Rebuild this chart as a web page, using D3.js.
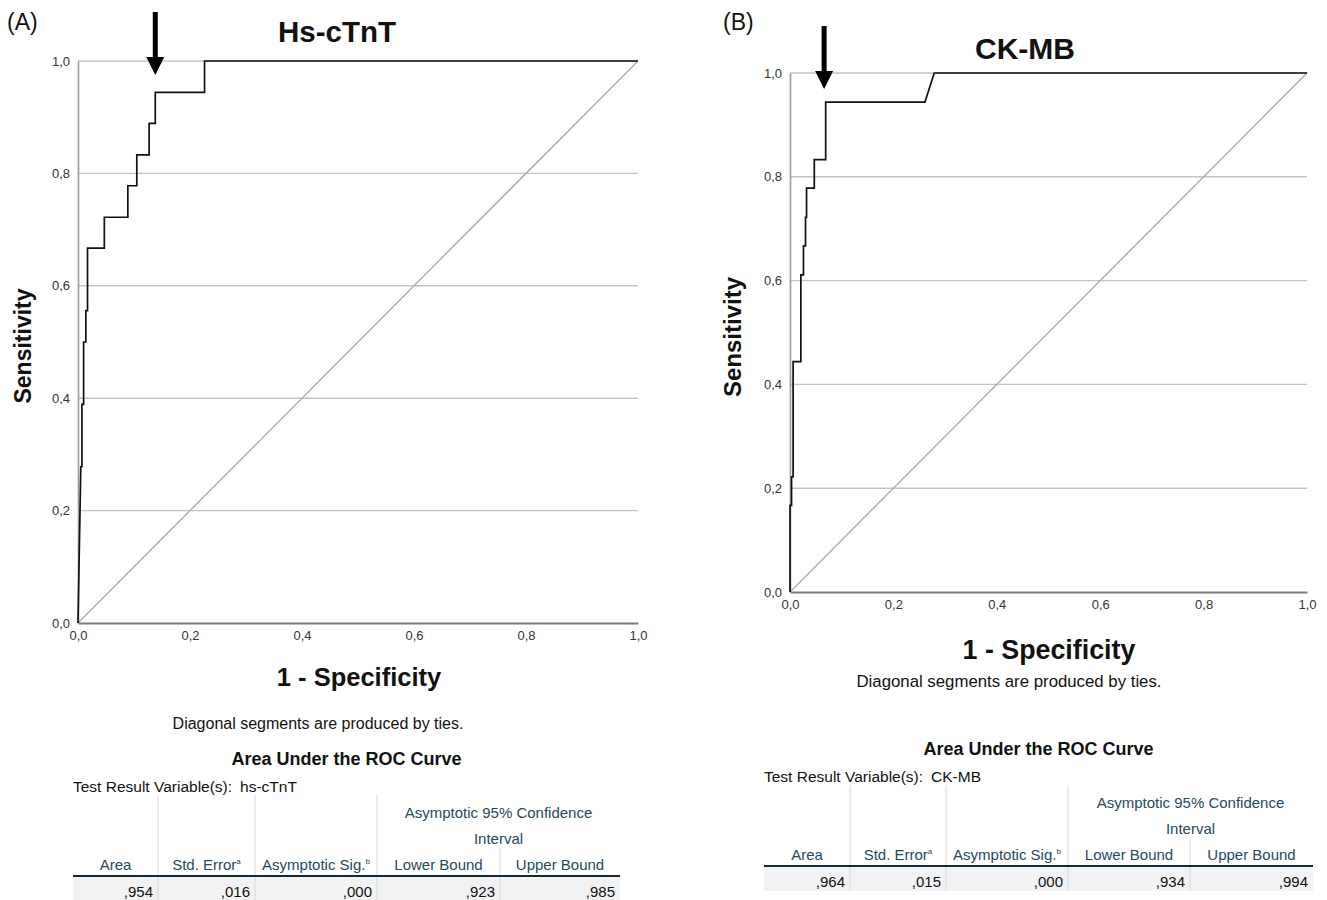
<!DOCTYPE html>
<html><head><meta charset="utf-8">
<script src="https://cdn.jsdelivr.net/npm/d3@7"></script>
<style>
body{margin:0;background:#fff;}
svg{display:block;font-family:"Liberation Sans",Arial,sans-serif;}
</style></head>
<body>
<svg id="chart" width="1327" height="900"></svg>
<script>
// ---------- data ----------
const ticks = [0, 0.2, 0.4, 0.6, 0.8, 1.0];

// Panel A: Hs-cTnT ROC curve (1 - specificity, sensitivity)
const fprA = [0, 0.005, 0.007, 0.007, 0.010, 0.010, 0.014, 0.014, 0.017, 0.017, 0.047, 0.047, 0.089, 0.089, 0.105, 0.105, 0.127, 0.127, 0.138, 0.138, 0.226, 0.226, 1];
const tprA = [0, 0.278, 0.278, 0.389, 0.389, 0.500, 0.500, 0.556, 0.556, 0.667, 0.667, 0.722, 0.722, 0.778, 0.778, 0.833, 0.833, 0.889, 0.889, 0.944, 0.944, 1, 1];
const arrowA = [0.138, 0.975];

// Panel B: CK-MB ROC curve
const fprB = [0, 0, 0.003, 0.003, 0.006, 0.006, 0.021, 0.021, 0.026, 0.026, 0.030, 0.030, 0.032, 0.032, 0.047, 0.047, 0.069, 0.069, 0.261, 0.279, 1];
const tprB = [0, 0.167, 0.167, 0.222, 0.222, 0.444, 0.444, 0.611, 0.611, 0.667, 0.667, 0.722, 0.722, 0.778, 0.778, 0.833, 0.833, 0.944, 0.944, 1, 1];
const arrowB = [0.066, 0.969];

// AUC tables
const colHeaders = ["Area", "Std. Error", "Asymptotic Sig.", "Lower Bound", "Upper Bound"];
const colSup = ["", "a", "b", "", ""];
const tableA = [",954", ",016", ",000", ",923", ",985"];
const tableB = [",964", ",015", ",000", ",934", ",994"];

// ---------- drawing ----------
const svg = d3.select("#chart");
const fmt = v => d3.format(".1f")(v).replace(".", ",");

function panel(cfg){
  const g = svg.append("g");
  const x = d3.scaleLinear().domain([0,1]).range([cfg.x0, cfg.x1]);
  const y = d3.scaleLinear().domain([0,1]).range([cfg.y0, cfg.y1]);

  // gridlines
  g.selectAll("line.grid").data(ticks.slice(1)).join("line")
    .attr("x1", x(0)).attr("x2", x(1))
    .attr("y1", d => y(d)).attr("y2", d => y(d))
    .attr("stroke", "#c4c4c4").attr("stroke-width", 1.4);

  // diagonal reference
  g.append("line").attr("x1", x(0)).attr("y1", y(0)).attr("x2", x(1)).attr("y2", y(1))
    .attr("stroke", "#a8a8a8").attr("stroke-width", 1.3);

  // axes
  const ax = g.append("g").attr("transform", `translate(0,${cfg.y0})`)
    .call(d3.axisBottom(x).tickValues(ticks).tickFormat(fmt).tickSize(0).tickPadding(8));
  ax.select(".domain").attr("stroke", "#7a7a7a").attr("stroke-width", 2);
  ax.selectAll("text").attr("font-size", 13).attr("fill", "#333").attr("font-family", "Liberation Sans, Arial, sans-serif");

  const ay = g.append("g").attr("transform", `translate(${cfg.x0},0)`)
    .call(d3.axisLeft(y).tickValues(ticks).tickFormat(fmt).tickSize(0).tickPadding(8));
  ay.select(".domain").attr("stroke", "#9a9a9a").attr("stroke-width", 1.6);
  ay.selectAll("text").attr("font-size", 13).attr("fill", "#333").attr("font-family", "Liberation Sans, Arial, sans-serif").attr("dy", "0.32em");

  // ROC curve
  const pts = cfg.fpr.map((f,i) => [f, cfg.tpr[i]]);
  g.append("path").datum(pts)
    .attr("d", d3.line().x(d => x(d[0])).y(d => y(d[1])))
    .attr("fill", "none").attr("stroke", "#111").attr("stroke-width", 1.7);

  // arrow
  const ax0 = x(cfg.arrow[0]), tip = y(cfg.arrow[1]);
  const headH = 18, headW = 9, shaftW = 2.5, len = 63;
  g.append("path")
    .attr("d", `M${ax0-shaftW},${tip-len} L${ax0+shaftW},${tip-len} L${ax0+shaftW},${tip-headH} L${ax0+headW},${tip-headH} L${ax0},${tip} L${ax0-headW},${tip-headH} L${ax0-shaftW},${tip-headH} Z`)
    .attr("fill", "#000");

  // texts
  g.append("text").attr("x", cfg.labX).attr("y", cfg.labY).attr("font-size", 23).attr("fill", "#111").text(cfg.label);
  g.append("text").attr("x", cfg.titleX).attr("y", cfg.titleY).attr("text-anchor", "middle")
    .attr("font-size", cfg.titleSize).attr("font-weight", "bold").attr("fill", "#111").text(cfg.title);
  g.append("text").attr("transform", `translate(${cfg.sensX},${cfg.sensY}) rotate(-90)`).attr("text-anchor", "middle")
    .attr("font-size", cfg.sensSize).attr("font-weight", "bold").attr("fill", "#111").text("Sensitivity");
  g.append("text").attr("x", cfg.specX).attr("y", cfg.specY).attr("text-anchor", "middle")
    .attr("font-size", cfg.specSize).attr("font-weight", "bold").attr("fill", "#111").text("1 - Specificity");
  g.append("text").attr("x", cfg.diagX).attr("y", cfg.diagY).attr("text-anchor", "middle")
    .attr("font-size", cfg.diagSize).attr("fill", "#111").text("Diagonal segments are produced by ties.");

  // table
  const t = cfg.table, c = t.cols, ty = t.y;
  const tg = g.append("g");
  tg.append("text").attr("x", (c[0]+c[5])/2).attr("y", ty+6).attr("text-anchor", "middle")
    .attr("font-size", 18).attr("font-weight", "bold").attr("fill", "#111").text("Area Under the ROC Curve");
  tg.append("text").attr("x", c[0]).attr("y", ty+33).attr("font-size", 15.5).attr("fill", "#111")
    .text("Test Result Variable(s):").append("tspan").attr("dx", 8).text(t.variable);
  // row band
  tg.append("rect").attr("x", c[0]).attr("y", ty+118).attr("width", c[5]-c[0]).attr("height", 24).attr("fill", "#f1f2f3");
  // separators
  [1,2,3].forEach(i => tg.append("line").attr("x1", c[i]).attr("x2", c[i]).attr("y1", ty+36).attr("y2", ty+142)
      .attr("stroke", "#d8d8d8").attr("stroke-width", 1));
  tg.append("line").attr("x1", c[4]).attr("x2", c[4]).attr("y1", ty+89).attr("y2", ty+142)
    .attr("stroke", "#d8d8d8").attr("stroke-width", 1);
  // header
  tg.append("text").attr("x", (c[3]+c[5])/2).attr("y", ty+59).attr("text-anchor", "middle")
    .attr("font-size", 15).attr("fill", "#264a60").text("Asymptotic 95% Confidence");
  tg.append("text").attr("x", (c[3]+c[5])/2).attr("y", ty+85).attr("text-anchor", "middle")
    .attr("font-size", 15).attr("fill", "#264a60").text("Interval");
  colHeaders.forEach((h,i) => {
    const tx = tg.append("text").attr("x", (c[i]+c[i+1])/2).attr("y", ty+111).attr("text-anchor", "middle")
      .attr("font-size", 15).attr("fill", "#264a60").text(h);
    if (colSup[i]) tx.append("tspan").attr("font-size", 8).attr("dy", -6).text(colSup[i]);
  });
  tg.append("line").attr("x1", c[0]).attr("x2", c[5]).attr("y1", ty+117).attr("y2", ty+117)
    .attr("stroke", "#152935").attr("stroke-width", 2);
  t.values.forEach((v,i) => tg.append("text").attr("x", c[i+1]-5).attr("y", ty+138).attr("text-anchor", "end")
    .attr("font-size", 15).attr("fill", "#111").text(v));
}

panel({
  x0: 78, x1: 638, y0: 623, y1: 61, fpr: fprA, tpr: tprA, arrow: arrowA,
  label: "(A)", labX: 7, labY: 30,
  title: "Hs-cTnT", titleX: 337, titleY: 42, titleSize: 29.5,
  sensX: 31, sensY: 346, sensSize: 23,
  specX: 359, specY: 686, specSize: 25.5,
  diagX: 318, diagY: 729, diagSize: 16,
  table: { y: 759, cols: [73, 158, 255, 377, 500, 620], variable: "hs-cTnT", values: tableA }
});
panel({
  x0: 790, x1: 1307, y0: 592, y1: 73, fpr: fprB, tpr: tprB, arrow: arrowB,
  label: "(B)", labX: 723, labY: 30,
  title: "CK-MB", titleX: 1025, titleY: 59, titleSize: 30,
  sensX: 741, sensY: 337, sensSize: 24,
  specX: 1049, specY: 659, specSize: 26.8,
  diagX: 1009, diagY: 687, diagSize: 16.8,
  table: { y: 749, cols: [764, 850, 946, 1068, 1190, 1313], variable: "CK-MB", values: tableB }
});
</script>
</body></html>
